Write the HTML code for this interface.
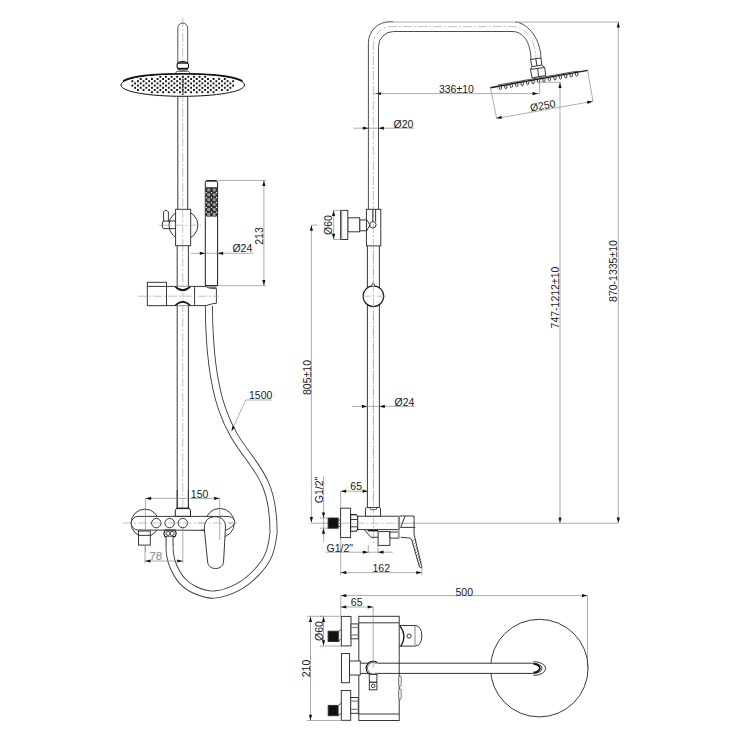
<!DOCTYPE html>
<html><head><meta charset="utf-8"><style>
html,body{margin:0;padding:0;background:#fff;}
svg{display:block;font-family:"Liberation Sans",sans-serif;}
</style></head><body>
<svg width="740" height="740" viewBox="0 0 740 740">
<rect width="740" height="740" fill="#fff"/>
<line x1="182.75" y1="18" x2="182.75" y2="512" stroke="#9a9a9a" stroke-width="0.6" fill="none" stroke-dasharray="9 2 2 2"/>
<path d="M177.8,62 L177.8,28 A4.95,4.95 0 0 1 187.7,28 L187.7,62" stroke="#444" stroke-width="0.9" fill="none"/>
<path d="M178.5,62.4 Q182.75,60.6 187,62.4 Q188.6,63.5 188.6,65.8 Q188.6,68.2 187,69.2 L178.5,69.2 Q177,68.2 177,65.8 Q177,63.5 178.5,62.4 Z" stroke="#111" stroke-width="1.1" fill="#fff"/>
<line x1="177.6" y1="63" x2="187.9" y2="63" stroke="#111" stroke-width="1.4"/>
<line x1="177.6" y1="68.6" x2="187.9" y2="68.6" stroke="#111" stroke-width="1.6"/>
<rect x="179" y="69.4" width="7.5" height="1.6" fill="#888"/>
<path d="M175.4,73.5 L176.8,71.3 L188.8,71.3 L190.2,73.5" stroke="#333" stroke-width="0.8" fill="none"/>
<path d="M121,85 C121,78 150,73.8 182.75,73.8 C215,73.8 244.5,78 244.5,85 C244.5,92 215,96.3 182.75,96.3 C150,96.3 121,92 121,85 Z" stroke="#111" stroke-width="1" fill="#fff"/>
<path d="M123,81 C132,76 155,73.8 182.75,73.8 C210,73.8 233,76 242.5,81" stroke="#111" stroke-width="1.5" fill="none"/>
<rect x="131.40" y="80.25" width="1.9" height="1.9" fill="#111"/>
<rect x="131.40" y="84.65" width="1.9" height="1.9" fill="#111"/>
<rect x="134.20" y="82.45" width="1.9" height="1.9" fill="#111"/>
<rect x="134.20" y="86.85" width="1.9" height="1.9" fill="#111"/>
<rect x="137.00" y="80.25" width="1.9" height="1.9" fill="#111"/>
<rect x="137.00" y="84.65" width="1.9" height="1.9" fill="#111"/>
<rect x="137.00" y="89.05" width="1.9" height="1.9" fill="#111"/>
<rect x="139.80" y="78.05" width="1.9" height="1.9" fill="#111"/>
<rect x="139.80" y="82.45" width="1.9" height="1.9" fill="#111"/>
<rect x="139.80" y="86.85" width="1.9" height="1.9" fill="#111"/>
<rect x="142.60" y="80.25" width="1.9" height="1.9" fill="#111"/>
<rect x="142.60" y="84.65" width="1.9" height="1.9" fill="#111"/>
<rect x="142.60" y="89.05" width="1.9" height="1.9" fill="#111"/>
<rect x="145.40" y="78.05" width="1.9" height="1.9" fill="#111"/>
<rect x="145.40" y="82.45" width="1.9" height="1.9" fill="#111"/>
<rect x="145.40" y="86.85" width="1.9" height="1.9" fill="#111"/>
<rect x="148.20" y="80.25" width="1.9" height="1.9" fill="#111"/>
<rect x="148.20" y="84.65" width="1.9" height="1.9" fill="#111"/>
<rect x="148.20" y="89.05" width="1.9" height="1.9" fill="#111"/>
<rect x="151.00" y="78.05" width="1.9" height="1.9" fill="#111"/>
<rect x="151.00" y="82.45" width="1.9" height="1.9" fill="#111"/>
<rect x="151.00" y="86.85" width="1.9" height="1.9" fill="#111"/>
<rect x="151.00" y="91.25" width="1.9" height="1.9" fill="#111"/>
<rect x="153.80" y="80.25" width="1.9" height="1.9" fill="#111"/>
<rect x="153.80" y="84.65" width="1.9" height="1.9" fill="#111"/>
<rect x="153.80" y="89.05" width="1.9" height="1.9" fill="#111"/>
<rect x="156.60" y="78.05" width="1.9" height="1.9" fill="#111"/>
<rect x="156.60" y="82.45" width="1.9" height="1.9" fill="#111"/>
<rect x="156.60" y="86.85" width="1.9" height="1.9" fill="#111"/>
<rect x="156.60" y="91.25" width="1.9" height="1.9" fill="#111"/>
<rect x="159.40" y="75.85" width="1.9" height="1.9" fill="#111"/>
<rect x="159.40" y="80.25" width="1.9" height="1.9" fill="#111"/>
<rect x="159.40" y="84.65" width="1.9" height="1.9" fill="#111"/>
<rect x="159.40" y="89.05" width="1.9" height="1.9" fill="#111"/>
<rect x="162.20" y="78.05" width="1.9" height="1.9" fill="#111"/>
<rect x="162.20" y="82.45" width="1.9" height="1.9" fill="#111"/>
<rect x="162.20" y="86.85" width="1.9" height="1.9" fill="#111"/>
<rect x="162.20" y="91.25" width="1.9" height="1.9" fill="#111"/>
<rect x="165.00" y="75.85" width="1.9" height="1.9" fill="#111"/>
<rect x="165.00" y="80.25" width="1.9" height="1.9" fill="#111"/>
<rect x="165.00" y="84.65" width="1.9" height="1.9" fill="#111"/>
<rect x="165.00" y="89.05" width="1.9" height="1.9" fill="#111"/>
<rect x="167.80" y="78.05" width="1.9" height="1.9" fill="#111"/>
<rect x="167.80" y="82.45" width="1.9" height="1.9" fill="#111"/>
<rect x="167.80" y="86.85" width="1.9" height="1.9" fill="#111"/>
<rect x="167.80" y="91.25" width="1.9" height="1.9" fill="#111"/>
<rect x="170.60" y="75.85" width="1.9" height="1.9" fill="#111"/>
<rect x="170.60" y="80.25" width="1.9" height="1.9" fill="#111"/>
<rect x="170.60" y="84.65" width="1.9" height="1.9" fill="#111"/>
<rect x="170.60" y="89.05" width="1.9" height="1.9" fill="#111"/>
<rect x="173.40" y="78.05" width="1.9" height="1.9" fill="#111"/>
<rect x="173.40" y="82.45" width="1.9" height="1.9" fill="#111"/>
<rect x="173.40" y="86.85" width="1.9" height="1.9" fill="#111"/>
<rect x="173.40" y="91.25" width="1.9" height="1.9" fill="#111"/>
<rect x="176.20" y="75.85" width="1.9" height="1.9" fill="#111"/>
<rect x="176.20" y="80.25" width="1.9" height="1.9" fill="#111"/>
<rect x="176.20" y="84.65" width="1.9" height="1.9" fill="#111"/>
<rect x="176.20" y="89.05" width="1.9" height="1.9" fill="#111"/>
<rect x="179.00" y="78.05" width="1.9" height="1.9" fill="#111"/>
<rect x="179.00" y="82.45" width="1.9" height="1.9" fill="#111"/>
<rect x="179.00" y="86.85" width="1.9" height="1.9" fill="#111"/>
<rect x="179.00" y="91.25" width="1.9" height="1.9" fill="#111"/>
<rect x="181.80" y="75.85" width="1.9" height="1.9" fill="#111"/>
<rect x="181.80" y="80.25" width="1.9" height="1.9" fill="#111"/>
<rect x="181.80" y="84.65" width="1.9" height="1.9" fill="#111"/>
<rect x="181.80" y="89.05" width="1.9" height="1.9" fill="#111"/>
<rect x="184.60" y="78.05" width="1.9" height="1.9" fill="#111"/>
<rect x="184.60" y="82.45" width="1.9" height="1.9" fill="#111"/>
<rect x="184.60" y="86.85" width="1.9" height="1.9" fill="#111"/>
<rect x="184.60" y="91.25" width="1.9" height="1.9" fill="#111"/>
<rect x="187.40" y="75.85" width="1.9" height="1.9" fill="#111"/>
<rect x="187.40" y="80.25" width="1.9" height="1.9" fill="#111"/>
<rect x="187.40" y="84.65" width="1.9" height="1.9" fill="#111"/>
<rect x="187.40" y="89.05" width="1.9" height="1.9" fill="#111"/>
<rect x="190.20" y="78.05" width="1.9" height="1.9" fill="#111"/>
<rect x="190.20" y="82.45" width="1.9" height="1.9" fill="#111"/>
<rect x="190.20" y="86.85" width="1.9" height="1.9" fill="#111"/>
<rect x="190.20" y="91.25" width="1.9" height="1.9" fill="#111"/>
<rect x="193.00" y="75.85" width="1.9" height="1.9" fill="#111"/>
<rect x="193.00" y="80.25" width="1.9" height="1.9" fill="#111"/>
<rect x="193.00" y="84.65" width="1.9" height="1.9" fill="#111"/>
<rect x="193.00" y="89.05" width="1.9" height="1.9" fill="#111"/>
<rect x="195.80" y="78.05" width="1.9" height="1.9" fill="#111"/>
<rect x="195.80" y="82.45" width="1.9" height="1.9" fill="#111"/>
<rect x="195.80" y="86.85" width="1.9" height="1.9" fill="#111"/>
<rect x="195.80" y="91.25" width="1.9" height="1.9" fill="#111"/>
<rect x="198.60" y="75.85" width="1.9" height="1.9" fill="#111"/>
<rect x="198.60" y="80.25" width="1.9" height="1.9" fill="#111"/>
<rect x="198.60" y="84.65" width="1.9" height="1.9" fill="#111"/>
<rect x="198.60" y="89.05" width="1.9" height="1.9" fill="#111"/>
<rect x="201.40" y="78.05" width="1.9" height="1.9" fill="#111"/>
<rect x="201.40" y="82.45" width="1.9" height="1.9" fill="#111"/>
<rect x="201.40" y="86.85" width="1.9" height="1.9" fill="#111"/>
<rect x="201.40" y="91.25" width="1.9" height="1.9" fill="#111"/>
<rect x="204.20" y="75.85" width="1.9" height="1.9" fill="#111"/>
<rect x="204.20" y="80.25" width="1.9" height="1.9" fill="#111"/>
<rect x="204.20" y="84.65" width="1.9" height="1.9" fill="#111"/>
<rect x="204.20" y="89.05" width="1.9" height="1.9" fill="#111"/>
<rect x="207.00" y="78.05" width="1.9" height="1.9" fill="#111"/>
<rect x="207.00" y="82.45" width="1.9" height="1.9" fill="#111"/>
<rect x="207.00" y="86.85" width="1.9" height="1.9" fill="#111"/>
<rect x="207.00" y="91.25" width="1.9" height="1.9" fill="#111"/>
<rect x="209.80" y="80.25" width="1.9" height="1.9" fill="#111"/>
<rect x="209.80" y="84.65" width="1.9" height="1.9" fill="#111"/>
<rect x="209.80" y="89.05" width="1.9" height="1.9" fill="#111"/>
<rect x="212.60" y="78.05" width="1.9" height="1.9" fill="#111"/>
<rect x="212.60" y="82.45" width="1.9" height="1.9" fill="#111"/>
<rect x="212.60" y="86.85" width="1.9" height="1.9" fill="#111"/>
<rect x="212.60" y="91.25" width="1.9" height="1.9" fill="#111"/>
<rect x="215.40" y="80.25" width="1.9" height="1.9" fill="#111"/>
<rect x="215.40" y="84.65" width="1.9" height="1.9" fill="#111"/>
<rect x="215.40" y="89.05" width="1.9" height="1.9" fill="#111"/>
<rect x="218.20" y="78.05" width="1.9" height="1.9" fill="#111"/>
<rect x="218.20" y="82.45" width="1.9" height="1.9" fill="#111"/>
<rect x="218.20" y="86.85" width="1.9" height="1.9" fill="#111"/>
<rect x="221.00" y="80.25" width="1.9" height="1.9" fill="#111"/>
<rect x="221.00" y="84.65" width="1.9" height="1.9" fill="#111"/>
<rect x="221.00" y="89.05" width="1.9" height="1.9" fill="#111"/>
<rect x="223.80" y="78.05" width="1.9" height="1.9" fill="#111"/>
<rect x="223.80" y="82.45" width="1.9" height="1.9" fill="#111"/>
<rect x="223.80" y="86.85" width="1.9" height="1.9" fill="#111"/>
<rect x="226.60" y="80.25" width="1.9" height="1.9" fill="#111"/>
<rect x="226.60" y="84.65" width="1.9" height="1.9" fill="#111"/>
<rect x="226.60" y="89.05" width="1.9" height="1.9" fill="#111"/>
<rect x="229.40" y="82.45" width="1.9" height="1.9" fill="#111"/>
<rect x="229.40" y="86.85" width="1.9" height="1.9" fill="#111"/>
<rect x="232.20" y="80.25" width="1.9" height="1.9" fill="#111"/>
<rect x="232.20" y="84.65" width="1.9" height="1.9" fill="#111"/>
<rect x="181.95" y="76.50" width="1.6" height="1.6" fill="#111"/>
<rect x="181.95" y="78.90" width="1.6" height="1.6" fill="#111"/>
<rect x="181.95" y="81.30" width="1.6" height="1.6" fill="#111"/>
<rect x="181.95" y="83.70" width="1.6" height="1.6" fill="#111"/>
<rect x="181.95" y="86.10" width="1.6" height="1.6" fill="#111"/>
<rect x="181.95" y="88.50" width="1.6" height="1.6" fill="#111"/>
<rect x="181.95" y="90.90" width="1.6" height="1.6" fill="#111"/>
<rect x="181.95" y="93.30" width="1.6" height="1.6" fill="#111"/>
<line x1="182.75" y1="74" x2="182.75" y2="96" stroke="#9a9a9a" stroke-width="0.6" fill="none" stroke-dasharray="9 2 2 2"/>
<line x1="177.8" y1="96" x2="177.8" y2="209.3" stroke="#2e2e2e" stroke-width="0.95" fill="none"/>
<line x1="187.7" y1="96" x2="187.7" y2="209.3" stroke="#2e2e2e" stroke-width="0.95" fill="none"/>
<line x1="177.2" y1="245.7" x2="177.2" y2="286.4" stroke="#2e2e2e" stroke-width="0.95" fill="none"/>
<line x1="177.2" y1="305.7" x2="177.2" y2="508" stroke="#2e2e2e" stroke-width="0.95" fill="none"/>
<line x1="188.4" y1="245.7" x2="188.4" y2="286.4" stroke="#2e2e2e" stroke-width="0.95" fill="none"/>
<line x1="188.4" y1="305.7" x2="188.4" y2="508" stroke="#2e2e2e" stroke-width="0.95" fill="none"/>
<circle cx="183.4" cy="225.2" r="14.5" stroke="#2e2e2e" stroke-width="0.95" fill="none"/>
<rect x="175.6" y="209.3" width="15.099999999999994" height="36.39999999999998" stroke="#2e2e2e" stroke-width="0.95" fill="#fff"/>
<line x1="182.75" y1="209.3" x2="182.75" y2="245.7" stroke="#9a9a9a" stroke-width="0.6" fill="none" stroke-dasharray="9 2 2 2"/>
<line x1="159" y1="225.2" x2="201" y2="225.2" stroke="#9a9a9a" stroke-width="0.6" fill="none" stroke-dasharray="9 2 2 2"/>
<path d="M163.6,222 L163.6,212 Q166,208.5 168.4,212 L168.4,222" stroke="#2e2e2e" stroke-width="0.95" fill="none"/>
<path d="M176,221 L164,221 Q162,221 162.3,224.8 Q162,228.6 164,228.6 L176,228.6" stroke="#2e2e2e" stroke-width="0.95" fill="none"/>
<path d="M205.3,285.7 L205.3,182.4 Q205.3,180.6 207.2,180.6 L215.7,180.6 Q217.6,180.6 217.6,182.4 L217.6,285.7 Z" stroke="#1a1a1a" stroke-width="1" fill="#fff"/>
<line x1="206.5" y1="180.9" x2="216.4" y2="180.9" stroke="#222" stroke-width="1.5"/>
<rect x="206.0" y="187.2" width="10.900000000000006" height="29.400000000000006" stroke="none" fill="#2a2a2a"/>
<rect x="207.20" y="188.40" width="3" height="3" fill="#9a9a9a"/>
<rect x="212.70" y="188.40" width="3" height="3" fill="#9a9a9a"/>
<rect x="205.70" y="192.10" width="1.2" height="1.2" fill="#fff"/>
<rect x="210.85" y="192.10" width="1.2" height="1.2" fill="#fff"/>
<rect x="215.90" y="192.10" width="1.2" height="1.2" fill="#fff"/>
<rect x="207.20" y="193.30" width="3" height="3" fill="#9a9a9a"/>
<rect x="212.70" y="193.30" width="3" height="3" fill="#9a9a9a"/>
<rect x="205.70" y="197.00" width="1.2" height="1.2" fill="#fff"/>
<rect x="210.85" y="197.00" width="1.2" height="1.2" fill="#fff"/>
<rect x="215.90" y="197.00" width="1.2" height="1.2" fill="#fff"/>
<rect x="207.20" y="198.20" width="3" height="3" fill="#9a9a9a"/>
<rect x="212.70" y="198.20" width="3" height="3" fill="#9a9a9a"/>
<rect x="205.70" y="201.90" width="1.2" height="1.2" fill="#fff"/>
<rect x="210.85" y="201.90" width="1.2" height="1.2" fill="#fff"/>
<rect x="215.90" y="201.90" width="1.2" height="1.2" fill="#fff"/>
<rect x="207.20" y="203.10" width="3" height="3" fill="#9a9a9a"/>
<rect x="212.70" y="203.10" width="3" height="3" fill="#9a9a9a"/>
<rect x="205.70" y="206.80" width="1.2" height="1.2" fill="#fff"/>
<rect x="210.85" y="206.80" width="1.2" height="1.2" fill="#fff"/>
<rect x="215.90" y="206.80" width="1.2" height="1.2" fill="#fff"/>
<rect x="207.20" y="208.00" width="3" height="3" fill="#9a9a9a"/>
<rect x="212.70" y="208.00" width="3" height="3" fill="#9a9a9a"/>
<rect x="205.70" y="211.70" width="1.2" height="1.2" fill="#fff"/>
<rect x="210.85" y="211.70" width="1.2" height="1.2" fill="#fff"/>
<rect x="215.90" y="211.70" width="1.2" height="1.2" fill="#fff"/>
<rect x="207.20" y="212.90" width="3" height="3" fill="#9a9a9a"/>
<rect x="212.70" y="212.90" width="3" height="3" fill="#9a9a9a"/>
<rect x="205.70" y="216.60" width="1.2" height="1.2" fill="#fff"/>
<rect x="210.85" y="216.60" width="1.2" height="1.2" fill="#fff"/>
<rect x="215.90" y="216.60" width="1.2" height="1.2" fill="#fff"/>
<line x1="218" y1="180.4" x2="266" y2="180.4" stroke="#8a8a8a" stroke-width="0.7" fill="none"/>
<line x1="218" y1="285.7" x2="266" y2="285.7" stroke="#8a8a8a" stroke-width="0.7" fill="none"/>
<line x1="263.9" y1="180.4" x2="263.9" y2="285.7" stroke="#8a8a8a" stroke-width="0.7" fill="none"/>
<path d="M263.90,180.60 L265.50,186.10 L262.30,186.10 Z" fill="#111"/>
<path d="M263.90,285.50 L262.30,280.00 L265.50,280.00 Z" fill="#111"/>
<text x="263.3" y="236" font-size="10.5" text-anchor="middle" fill="#1a1a1a" transform="rotate(-90 263.3 236)">213</text>
<line x1="191" y1="253.3" x2="253.5" y2="253.3" stroke="#8a8a8a" stroke-width="0.7" fill="none"/>
<path d="M205.30,253.30 L199.80,254.90 L199.80,251.70 Z" fill="#111"/>
<path d="M217.60,253.30 L223.10,251.70 L223.10,254.90 Z" fill="#111"/>
<text x="232.4" y="251.8" font-size="10.5" text-anchor="start" fill="#1a1a1a">Ø24</text>
<rect x="147.3" y="282.3" width="19.19999999999999" height="23.399999999999977" stroke="#2e2e2e" stroke-width="0.95" fill="#fff"/>
<line x1="147.3" y1="286.4" x2="166.5" y2="286.4" stroke="#2e2e2e" stroke-width="0.95" fill="none"/>
<path d="M166.5,286.4 L175.5,286.4 L194.6,286.4 L194.6,305.6 L166.5,305.6" stroke="#2e2e2e" stroke-width="0.95" fill="none"/>
<path d="M175.3,286.6 Q182.75,293.8 190.2,286.6" stroke="#111" stroke-width="1.7" fill="#fff"/>
<path d="M175.3,305.5 Q182.75,298.4 190.2,305.5" stroke="#111" stroke-width="1.7" fill="#fff"/>
<path d="M194.6,286.4 L206,286.4 Q208,288.6 216.4,288.6 L216.4,303.2 L212.4,303.8 L206,305.6 L194.6,305.6" stroke="#2e2e2e" stroke-width="0.95" fill="none"/>
<path d="M206,286.4 L216.4,286.4 L216.4,288.6 L209,288.3 Z" fill="#777"/>
<line x1="205.5" y1="285.5" x2="217" y2="285.5" stroke="#2e2e2e" stroke-width="0.95" fill="none"/>
<line x1="138" y1="296.2" x2="219" y2="296.2" stroke="#9a9a9a" stroke-width="0.6" fill="none" stroke-dasharray="9 2 2 2"/>
<path d="M208.9,306 C209.5,477.4 273.6,435 273.6,532.4 C272.75,539.95 271.32,548.67 268.5,555.3 C265.68,561.93 261.78,566.92 256.7,572.2 C251.62,577.48 245.12,583.27 238,587 C230.88,590.73 221.17,594.10 214,594.6 C206.83,595.10 200.33,592.32 195,590 C189.67,587.68 185.63,584.70 182,580.7 C178.37,576.70 175.20,570.45 173.2,566 C171.20,561.55 170.60,557.58 170,554 C169.40,550.42 169.67,546.08 169.6,544.5" stroke="#3a3a3a" stroke-width="8" fill="none"/>
<path d="M208.9,306 C209.5,477.4 273.6,435 273.6,532.4 C272.75,539.95 271.32,548.67 268.5,555.3 C265.68,561.93 261.78,566.92 256.7,572.2 C251.62,577.48 245.12,583.27 238,587 C230.88,590.73 221.17,594.10 214,594.6 C206.83,595.10 200.33,592.32 195,590 C189.67,587.68 185.63,584.70 182,580.7 C178.37,576.70 175.20,570.45 173.2,566 C171.20,561.55 170.60,557.58 170,554 C169.40,550.42 169.67,546.08 169.6,544.5" stroke="#fff" stroke-width="6.2" fill="none"/>
<line x1="231.5" y1="431.2" x2="245.7" y2="400" stroke="#8a8a8a" stroke-width="0.7" fill="none"/>
<line x1="245.7" y1="400" x2="271.4" y2="400" stroke="#8a8a8a" stroke-width="0.7" fill="none"/>
<path d="M231.50,431.20 L232.30,426.07 L234.85,427.23 Z" fill="#111"/>
<text x="249" y="398.5" font-size="10.5" text-anchor="start" fill="#1a1a1a">1500</text>
<circle cx="145" cy="523" r="13.9" stroke="#2e2e2e" stroke-width="0.95" fill="none"/>
<circle cx="219.8" cy="523" r="14.6" stroke="#2e2e2e" stroke-width="0.95" fill="none"/>
<path d="M138,516.4 L228.4,516.4 C233,517 235.5,520.5 234.5,523.2 C233.3,526.5 229,528.8 225.4,530.4 L138,530 A6.8,6.8 0 0 1 138,516.4 Z" stroke="#2e2e2e" stroke-width="0.95" fill="#fff"/>
<circle cx="156.3" cy="523.1" r="4.7" stroke="#2e2e2e" stroke-width="0.95" fill="none"/>
<circle cx="169.6" cy="523.1" r="4.7" stroke="#2e2e2e" stroke-width="0.95" fill="none"/>
<circle cx="182.8" cy="523.1" r="4.7" stroke="#2e2e2e" stroke-width="0.95" fill="none"/>
<line x1="123" y1="523" x2="237" y2="523" stroke="#9a9a9a" stroke-width="0.6" fill="none" stroke-dasharray="9 2 2 2"/>
<path d="M175.3,516.3 L175.3,510.2 L176.6,508.3 L189.2,508.3 L190.5,510.2 L190.5,516.3 Z" stroke="#222" stroke-width="1" fill="#fff"/>
<line x1="176.6" y1="508.4" x2="189.2" y2="508.4" stroke="#222" stroke-width="1.4"/>
<line x1="177.2" y1="490" x2="177.2" y2="508" stroke="#2e2e2e" stroke-width="0.95" fill="none"/>
<line x1="188.4" y1="490" x2="188.4" y2="508" stroke="#2e2e2e" stroke-width="0.95" fill="none"/>
<rect x="138.5" y="531" width="11.800000000000011" height="14.100000000000023" stroke="#2e2e2e" stroke-width="0.95" fill="#fff"/>
<line x1="138.5" y1="535.4" x2="150.3" y2="535.4" stroke="#2e2e2e" stroke-width="0.95" fill="none"/>
<line x1="145.4" y1="545.1" x2="145.4" y2="552" stroke="#8a8a8a" stroke-width="0.7" fill="none"/>
<path d="M165,530.1 L175,530.1 L176.3,533.4 L175,536.6 L165,536.6 L163.8,533.4 Z" stroke="#1a1a1a" stroke-width="1.1" fill="#fff"/>
<circle cx="168.1" cy="533.4" r="2.1" stroke="#2e2e2e" stroke-width="0.95" fill="none"/>
<circle cx="172.1" cy="533.4" r="2.1" stroke="#2e2e2e" stroke-width="0.95" fill="none"/>
<rect x="166.1" y="536.6" width="6.9" height="8.4" fill="#fff"/>
<path d="M166.1,536.6 L166.1,545 M173,536.6 L173,545" stroke="#2e2e2e" stroke-width="0.95" fill="none"/>
<path d="M204.3,529 C204.3,520 209,516.7 215.3,516.7 C221.5,516.7 225.5,520.5 225.5,527 L223.6,561 C223.4,566 220,568.5 215.5,568.5 C211,568.5 207.8,566 207.5,561 Z" stroke="#2e2e2e" stroke-width="0.95" fill="#fff"/>
<path d="M201.5,529.8 Q203.8,530 204.4,531" stroke="#2e2e2e" stroke-width="0.95" fill="none"/>
<line x1="198" y1="523" x2="237" y2="523" stroke="#9a9a9a" stroke-width="0.6" fill="none" stroke-dasharray="9 2 2 2"/>
<line x1="145.6" y1="498.4" x2="219.7" y2="498.4" stroke="#8a8a8a" stroke-width="0.7" fill="none"/>
<line x1="145.4" y1="498.4" x2="145.4" y2="531" stroke="#8a8a8a" stroke-width="0.7" fill="none"/>
<line x1="219.7" y1="498.4" x2="219.7" y2="540" stroke="#8a8a8a" stroke-width="0.7" fill="none"/>
<path d="M145.60,498.40 L151.10,496.80 L151.10,500.00 Z" fill="#111"/>
<path d="M219.70,498.40 L214.20,500.00 L214.20,496.80 Z" fill="#111"/>
<text x="190.8" y="497.5" font-size="10.5" text-anchor="start" fill="#1a1a1a">150</text>
<line x1="145" y1="561" x2="182.8" y2="561" stroke="#8a8a8a" stroke-width="0.7" fill="none"/>
<line x1="145" y1="545" x2="145" y2="563" stroke="#8a8a8a" stroke-width="0.7" fill="none"/>
<line x1="182.8" y1="528" x2="182.8" y2="563" stroke="#8a8a8a" stroke-width="0.7" fill="none"/>
<path d="M145.00,561.00 L150.50,559.40 L150.50,562.60 Z" fill="#111"/>
<path d="M182.80,561.00 L177.30,562.60 L177.30,559.40 Z" fill="#111"/>
<text x="149.3" y="560.4" font-size="11.8" text-anchor="start" fill="#8a8a8a">78</text>
<path d="M368.4,42.8 A21,21 0 0 1 389.4,21.8 L393,21.8" stroke="#3a3a3a" stroke-width="0.9" fill="none"/>
<path d="M378.5,46.5 A15,15 0 0 1 393.5,31.5 L513,31.5 C522,32 530.5,40 531,59.5" stroke="#3a3a3a" stroke-width="0.9" fill="none"/>
<path d="M515,22 C525,22.3 540,35 541,58" stroke="#3a3a3a" stroke-width="0.9" fill="none"/>
<path d="M373.4,500 L373.4,44.6 A18,18 0 0 1 391.4,26.6 L514,26.6 C523.5,27 535,37 536,58.5" stroke="#9a9a9a" stroke-width="0.6" fill="none" stroke-dasharray="9 2 2 2"/>
<path d="M530.5,59.5 L541,58 L541.9,65.1 L532,66.6 Z" stroke="#2e2e2e" stroke-width="0.95" fill="none"/>
<line x1="535.8" y1="58.8" x2="536.9" y2="65.8" stroke="#2e2e2e" stroke-width="0.95" fill="none"/>
<path d="M532,66.6 L530.5,69.4 M541.9,65.1 L544.7,67.5" stroke="#2e2e2e" stroke-width="0.95" fill="none"/>
<path d="M530.5,69.4 L544.7,67.5 L545.7,75.5 L532,77.9 Z" stroke="#2e2e2e" stroke-width="0.95" fill="none"/>
<line x1="537.6" y1="68.7" x2="538.8" y2="76.7" stroke="#2e2e2e" stroke-width="0.95" fill="none"/>
<path d="M490.3,87.7 L587.8,70.4" stroke="#1a1a1a" stroke-width="1.4" fill="none"/>
<path d="M490.3,87.7 L497,86.5 L498.4,84.9 L571.6,72.1 Q576,71 579.7,71.5" stroke="#333" stroke-width="0.8" fill="none"/>
<path d="M499.30,86.61 L499.30,88.91 Q500.40,90.41 501.50,88.91 L501.50,86.41" stroke="#222" stroke-width="0.85" fill="none"/>
<path d="M504.75,85.64 L504.75,87.94 Q505.85,89.44 506.95,87.94 L506.95,85.44" stroke="#222" stroke-width="0.85" fill="none"/>
<path d="M510.20,84.67 L510.20,86.97 Q511.30,88.47 512.40,86.97 L512.40,84.47" stroke="#222" stroke-width="0.85" fill="none"/>
<path d="M515.65,83.71 L515.65,86.01 Q516.75,87.51 517.85,86.01 L517.85,83.51" stroke="#222" stroke-width="0.85" fill="none"/>
<path d="M521.10,82.74 L521.10,85.04 Q522.20,86.54 523.30,85.04 L523.30,82.54" stroke="#222" stroke-width="0.85" fill="none"/>
<path d="M526.55,81.77 L526.55,84.07 Q527.65,85.57 528.75,84.07 L528.75,81.57" stroke="#222" stroke-width="0.85" fill="none"/>
<path d="M532.00,80.81 L532.00,83.11 Q533.10,84.61 534.20,83.11 L534.20,80.61" stroke="#222" stroke-width="0.85" fill="none"/>
<path d="M537.45,79.84 L537.45,82.14 Q538.55,83.64 539.65,82.14 L539.65,79.64" stroke="#222" stroke-width="0.85" fill="none"/>
<path d="M542.90,78.87 L542.90,81.17 Q544.00,82.67 545.10,81.17 L545.10,78.67" stroke="#222" stroke-width="0.85" fill="none"/>
<path d="M548.35,77.90 L548.35,80.20 Q549.45,81.70 550.55,80.20 L550.55,77.70" stroke="#222" stroke-width="0.85" fill="none"/>
<path d="M553.80,76.94 L553.80,79.24 Q554.90,80.74 556.00,79.24 L556.00,76.74" stroke="#222" stroke-width="0.85" fill="none"/>
<path d="M559.25,75.97 L559.25,78.27 Q560.35,79.77 561.45,78.27 L561.45,75.77" stroke="#222" stroke-width="0.85" fill="none"/>
<path d="M564.70,75.00 L564.70,77.30 Q565.80,78.80 566.90,77.30 L566.90,74.80" stroke="#222" stroke-width="0.85" fill="none"/>
<path d="M570.15,74.04 L570.15,76.34 Q571.25,77.84 572.35,76.34 L572.35,73.84" stroke="#222" stroke-width="0.85" fill="none"/>
<path d="M575.60,73.07 L575.60,75.37 Q576.70,76.87 577.80,75.37 L577.80,72.87" stroke="#222" stroke-width="0.85" fill="none"/>
<line x1="490.4" y1="87.6" x2="496.7" y2="118.4" stroke="#8a8a8a" stroke-width="0.7" fill="none"/>
<line x1="587.6" y1="70.2" x2="593" y2="101.3" stroke="#8a8a8a" stroke-width="0.7" fill="none"/>
<line x1="496.7" y1="118.4" x2="593" y2="101.3" stroke="#8a8a8a" stroke-width="0.7" fill="none"/>
<path d="M496.20,118.20 L501.34,115.66 L501.90,118.81 Z" fill="#111"/>
<path d="M592.70,101.40 L587.56,103.94 L587.00,100.79 Z" fill="#111"/>
<text x="543.3" y="109.2" font-size="10.5" text-anchor="middle" fill="#1a1a1a" transform="rotate(-10.15 543.3 109.2)">Ø250</text>
<line x1="373.4" y1="93.6" x2="539.6" y2="93.6" stroke="#8a8a8a" stroke-width="0.7" fill="none"/>
<path d="M375.60,93.60 L381.10,92.30 L381.10,94.90 Z" fill="#111"/>
<path d="M538.00,93.60 L532.50,95.20 L532.50,92.00 Z" fill="#111"/>
<line x1="539.7" y1="81.9" x2="539.7" y2="94" stroke="#8a8a8a" stroke-width="0.7" fill="none"/>
<text x="438.9" y="92.8" font-size="10.5" text-anchor="start" fill="#1a1a1a">336±10</text>
<line x1="539.7" y1="82.3" x2="561" y2="82.3" stroke="#8a8a8a" stroke-width="0.7" fill="none"/>
<line x1="560" y1="82.3" x2="560" y2="523" stroke="#8a8a8a" stroke-width="0.7" fill="none"/>
<path d="M560.00,82.50 L561.60,88.00 L558.40,88.00 Z" fill="#111"/>
<path d="M560.00,523.00 L558.40,517.50 L561.60,517.50 Z" fill="#111"/>
<text x="559" y="297.5" font-size="10.5" text-anchor="middle" fill="#1a1a1a" transform="rotate(-90 559 297.5)">747-1212±10</text>
<line x1="393" y1="22" x2="618.8" y2="22" stroke="#aaa" stroke-width="1.2" fill="none"/>
<line x1="618.3" y1="21.9" x2="618.3" y2="523" stroke="#8a8a8a" stroke-width="0.7" fill="none"/>
<path d="M618.30,22.10 L619.90,27.60 L616.70,27.60 Z" fill="#111"/>
<path d="M618.30,523.00 L616.70,517.50 L619.90,517.50 Z" fill="#111"/>
<text x="617.3" y="271" font-size="10.5" text-anchor="middle" fill="#1a1a1a" transform="rotate(-90 617.3 271)">870-1335±10</text>
<line x1="353.4" y1="128.2" x2="414.3" y2="128.2" stroke="#8a8a8a" stroke-width="0.7" fill="none"/>
<path d="M368.40,128.20 L362.90,129.80 L362.90,126.60 Z" fill="#111"/>
<path d="M378.40,128.20 L383.90,126.60 L383.90,129.80 Z" fill="#111"/>
<text x="393.5" y="127.5" font-size="10.5" text-anchor="start" fill="#1a1a1a">Ø20</text>
<line x1="368.4" y1="42.8" x2="368.4" y2="209.3" stroke="#3a3a3a" stroke-width="0.9" fill="none"/>
<line x1="378.5" y1="46.5" x2="378.5" y2="209.3" stroke="#3a3a3a" stroke-width="0.9" fill="none"/>
<line x1="367.4" y1="245.9" x2="367.4" y2="507.3" stroke="#2e2e2e" stroke-width="0.95" fill="none"/>
<line x1="379.4" y1="245.9" x2="379.4" y2="507.3" stroke="#2e2e2e" stroke-width="0.95" fill="none"/>
<rect x="366.4" y="209.3" width="14.400000000000034" height="36.599999999999994" stroke="#2e2e2e" stroke-width="0.95" fill="#fff"/>
<line x1="373.4" y1="209" x2="373.4" y2="500" stroke="#9a9a9a" stroke-width="0.6" fill="none" stroke-dasharray="9 2 2 2"/>
<circle cx="372.9" cy="224.8" r="3.2" stroke="#2e2e2e" stroke-width="0.95" fill="none"/>
<path d="M366.8,219.9 L359.7,219.9 L359.7,230.8 L366.8,230.8" stroke="#2e2e2e" stroke-width="0.95" fill="none"/>
<line x1="366.8" y1="219.9" x2="369.8" y2="224.8" stroke="#2e2e2e" stroke-width="0.95" fill="none"/>
<line x1="366.8" y1="230.8" x2="369.8" y2="224.8" stroke="#2e2e2e" stroke-width="0.95" fill="none"/>
<line x1="372.8" y1="209.3" x2="372.8" y2="221.6" stroke="#2e2e2e" stroke-width="0.95" fill="none"/>
<line x1="375.6" y1="209.3" x2="375.6" y2="221.6" stroke="#2e2e2e" stroke-width="0.95" fill="none"/>
<rect x="347.8" y="217.8" width="11.899999999999977" height="14.0" stroke="#2e2e2e" stroke-width="0.95" fill="#fff"/>
<rect x="340.6" y="210.4" width="7.199999999999989" height="29.099999999999994" stroke="#2e2e2e" stroke-width="0.95" fill="#fff"/>
<line x1="341.7" y1="210.4" x2="341.7" y2="239.5" stroke="#888" stroke-width="1"/>
<line x1="333.5" y1="210.4" x2="340.6" y2="210.4" stroke="#8a8a8a" stroke-width="0.7" fill="none"/>
<line x1="333.5" y1="239.5" x2="340.6" y2="239.5" stroke="#8a8a8a" stroke-width="0.7" fill="none"/>
<line x1="333.6" y1="210.4" x2="333.6" y2="239.5" stroke="#8a8a8a" stroke-width="0.7" fill="none"/>
<path d="M333.60,210.60 L335.20,216.10 L332.00,216.10 Z" fill="#111"/>
<path d="M333.60,239.30 L332.00,233.80 L335.20,233.80 Z" fill="#111"/>
<text x="332" y="225" font-size="10.5" text-anchor="middle" fill="#1a1a1a" transform="rotate(-90 332 225)">Ø60</text>
<circle cx="373.4" cy="296.2" r="10.3" stroke="#222" stroke-width="1.2" fill="#fff"/>
<path d="M372,285.9 Q371.8,283.2 373.3,283.1 Q374.8,283.2 374.6,285.9" stroke="#333" stroke-width="0.8" fill="#fff"/>
<line x1="362" y1="296.2" x2="386" y2="296.2" stroke="#9a9a9a" stroke-width="0.6" fill="none" stroke-dasharray="9 2 2 2"/>
<line x1="373.4" y1="283" x2="373.4" y2="308" stroke="#9a9a9a" stroke-width="0.6" fill="none" stroke-dasharray="9 2 2 2"/>
<line x1="311.4" y1="225.1" x2="317.6" y2="225.1" stroke="#8a8a8a" stroke-width="0.7" fill="none"/>
<line x1="311.4" y1="225.1" x2="311.4" y2="522.4" stroke="#8a8a8a" stroke-width="0.7" fill="none"/>
<path d="M311.40,225.30 L313.00,230.80 L309.80,230.80 Z" fill="#111"/>
<path d="M311.40,522.40 L309.80,516.90 L313.00,516.90 Z" fill="#111"/>
<text x="310.5" y="377.5" font-size="10.5" text-anchor="middle" fill="#1a1a1a" transform="rotate(-90 310.5 377.5)">805±10</text>
<line x1="352.1" y1="406.4" x2="415" y2="406.4" stroke="#8a8a8a" stroke-width="0.7" fill="none"/>
<path d="M367.40,406.40 L361.90,408.00 L361.90,404.80 Z" fill="#111"/>
<path d="M379.30,406.40 L384.80,404.80 L384.80,408.00 Z" fill="#111"/>
<text x="394.6" y="405.5" font-size="10.5" text-anchor="start" fill="#1a1a1a">Ø24</text>
<line x1="310.4" y1="523.2" x2="618.4" y2="523.2" stroke="#8a8a8a" stroke-width="0.7" fill="none"/>
<rect x="328.1" y="518" width="10.0" height="10.200000000000045" stroke="#2e2e2e" stroke-width="0.95" fill="#111"/>
<line x1="338.1" y1="520" x2="340.5" y2="520" stroke="#2e2e2e" stroke-width="0.95" fill="none"/>
<line x1="338.1" y1="526.4" x2="340.5" y2="526.4" stroke="#2e2e2e" stroke-width="0.95" fill="none"/>
<line x1="338.1" y1="523.2" x2="340.5" y2="523.2" stroke="#777" stroke-width="0.6"/>
<rect x="340.6" y="508.2" width="10.0" height="29.400000000000034" stroke="#2e2e2e" stroke-width="0.95" fill="#fff"/>
<path d="M350.6,514.6 L356,514.6 Q358,516 357.8,518 L357.8,528 Q358,530 356,531.2 L350.6,531.2 Z" stroke="#1a1a1a" stroke-width="1.1" fill="#fff"/>
<line x1="350.6" y1="519.5" x2="357.8" y2="519.5" stroke="#2e2e2e" stroke-width="0.95" fill="none"/>
<line x1="350.6" y1="526.8" x2="357.8" y2="526.8" stroke="#2e2e2e" stroke-width="0.95" fill="none"/>
<rect x="357.8" y="516.2" width="41.39999999999998" height="13.399999999999977" stroke="#2e2e2e" stroke-width="0.95" fill="#fff"/>
<path d="M365.5,516.2 L365.5,508.8 Q365.5,507.5 366.8,507.5 L379.2,507.5 Q380.5,507.5 380.5,508.8 L380.5,516.2 Z" stroke="#333" stroke-width="0.95" fill="#fff"/>
<path d="M370.2,507.7 L370.2,508.8 Q370.4,509.7 371.4,509.7 L375.4,509.7 Q376.4,509.7 376.6,508.8 L376.6,507.7" stroke="#333" stroke-width="0.9" fill="none"/>
<line x1="373.4" y1="500" x2="373.4" y2="545" stroke="#9a9a9a" stroke-width="0.6" fill="none" stroke-dasharray="9 2 2 2"/>
<path d="M364.3,529.6 L368.8,534.9 L371,537.3 L378.1,537.3" stroke="#2e2e2e" stroke-width="0.95" fill="none"/>
<line x1="367.6" y1="530.6" x2="378.1" y2="530.6" stroke="#1a1a1a" stroke-width="1.6"/>
<rect x="378.1" y="531.6" width="11.799999999999955" height="13.799999999999955" stroke="#2e2e2e" stroke-width="0.95" fill="#fff"/>
<rect x="389.9" y="532" width="8.900000000000034" height="6.100000000000023" stroke="#2e2e2e" stroke-width="0.95" fill="#fff"/>
<line x1="398.6" y1="516.2" x2="398.6" y2="538.2" stroke="#999" stroke-width="1.6"/>
<path d="M399.9,516 L414.1,516 L414.1,534.4 M405.2,516 L400.6,527.4" stroke="#2e2e2e" stroke-width="0.95" fill="none"/>
<line x1="400.6" y1="527.4" x2="415.3" y2="527.4" stroke="#2e2e2e" stroke-width="0.95" fill="none"/>
<path d="M400.6,537.3 L409.3,538 Q411.2,538.6 411.8,540 L419.4,566.9 L421.9,567.9 L414.1,534.4" stroke="#2e2e2e" stroke-width="0.95" fill="none"/>
<line x1="412.36" y1="541.98" x2="415.36" y2="538.78" stroke="#333" stroke-width="0.6"/>
<line x1="413.16" y1="544.81" x2="416.16" y2="541.61" stroke="#333" stroke-width="0.6"/>
<line x1="413.96" y1="547.65" x2="416.96" y2="544.45" stroke="#333" stroke-width="0.6"/>
<line x1="414.76" y1="550.48" x2="417.76" y2="547.28" stroke="#333" stroke-width="0.6"/>
<line x1="415.56" y1="553.31" x2="418.56" y2="550.11" stroke="#333" stroke-width="0.6"/>
<line x1="416.36" y1="556.14" x2="419.36" y2="552.94" stroke="#333" stroke-width="0.6"/>
<line x1="417.16" y1="558.97" x2="420.16" y2="555.77" stroke="#333" stroke-width="0.6"/>
<line x1="417.96" y1="561.80" x2="420.96" y2="558.60" stroke="#333" stroke-width="0.6"/>
<line x1="418.76" y1="564.63" x2="421.76" y2="561.43" stroke="#333" stroke-width="0.6"/>
<line x1="340.6" y1="523.2" x2="399.2" y2="523.2" stroke="#999" stroke-width="0.6" fill="none" stroke-dasharray="9 2 2 2"/>
<line x1="340.7" y1="491.2" x2="368.1" y2="491.2" stroke="#8a8a8a" stroke-width="0.7" fill="none"/>
<path d="M340.70,491.20 L346.20,489.60 L346.20,492.80 Z" fill="#111"/>
<path d="M368.10,491.20 L362.60,492.80 L362.60,489.60 Z" fill="#111"/>
<line x1="340.7" y1="491.2" x2="340.7" y2="508" stroke="#8a8a8a" stroke-width="0.7" fill="none"/>
<line x1="340.7" y1="537.8" x2="340.7" y2="575" stroke="#8a8a8a" stroke-width="0.7" fill="none"/>
<text x="350.3" y="490.2" font-size="10.5" text-anchor="start" fill="#1a1a1a">65</text>
<line x1="323.6" y1="476" x2="323.6" y2="542.3" stroke="#8a8a8a" stroke-width="0.7" fill="none"/>
<line x1="320" y1="518" x2="328" y2="518" stroke="#8a8a8a" stroke-width="0.7" fill="none"/>
<line x1="320" y1="528.2" x2="328" y2="528.2" stroke="#8a8a8a" stroke-width="0.7" fill="none"/>
<path d="M323.50,518.00 L321.90,512.50 L325.10,512.50 Z" fill="#111"/>
<path d="M323.50,528.20 L325.10,533.70 L321.90,533.70 Z" fill="#111"/>
<text x="323.2" y="490" font-size="10.5" text-anchor="middle" fill="#1a1a1a" transform="rotate(-90 323.2 490)">G1/2"</text>
<line x1="325.5" y1="552.2" x2="392.7" y2="552.2" stroke="#8a8a8a" stroke-width="0.7" fill="none"/>
<line x1="368.3" y1="545" x2="368.3" y2="553" stroke="#8a8a8a" stroke-width="0.7" fill="none"/>
<line x1="378" y1="545.5" x2="378" y2="553" stroke="#8a8a8a" stroke-width="0.7" fill="none"/>
<path d="M368.30,552.20 L362.80,553.80 L362.80,550.60 Z" fill="#111"/>
<path d="M378.00,552.20 L383.50,550.60 L383.50,553.80 Z" fill="#111"/>
<text x="326.5" y="551.5" font-size="10.5" text-anchor="start" fill="#1a1a1a">G1/2"</text>
<line x1="340.8" y1="572.6" x2="421.8" y2="572.6" stroke="#8a8a8a" stroke-width="0.7" fill="none"/>
<line x1="421.8" y1="566" x2="421.8" y2="575" stroke="#8a8a8a" stroke-width="0.7" fill="none"/>
<path d="M340.80,572.60 L346.30,571.00 L346.30,574.20 Z" fill="#111"/>
<path d="M421.80,572.60 L416.30,574.20 L416.30,571.00 Z" fill="#111"/>
<text x="372.5" y="571.8" font-size="10.5" text-anchor="start" fill="#1a1a1a">162</text>
<line x1="340.8" y1="595.6" x2="587.5" y2="595.6" stroke="#8a8a8a" stroke-width="0.7" fill="none"/>
<path d="M340.80,595.60 L346.30,594.00 L346.30,597.20 Z" fill="#111"/>
<path d="M587.50,595.60 L582.00,597.20 L582.00,594.00 Z" fill="#111"/>
<line x1="340.8" y1="595.6" x2="340.8" y2="616.3" stroke="#8a8a8a" stroke-width="0.7" fill="none"/>
<line x1="587.5" y1="595.6" x2="587.5" y2="668.6" stroke="#8a8a8a" stroke-width="0.7" fill="none"/>
<text x="455.5" y="595.8" font-size="10.5" text-anchor="start" fill="#1a1a1a">500</text>
<line x1="340.8" y1="607" x2="373.2" y2="607" stroke="#8a8a8a" stroke-width="0.7" fill="none"/>
<path d="M340.80,607.00 L346.30,605.40 L346.30,608.60 Z" fill="#111"/>
<path d="M373.20,607.00 L367.70,608.60 L367.70,605.40 Z" fill="#111"/>
<text x="350.8" y="606" font-size="10.5" text-anchor="start" fill="#1a1a1a">65</text>
<circle cx="539.3" cy="668.1" r="48.8" stroke="#2e2e2e" stroke-width="0.95" fill="none"/>
<rect x="358.8" y="616.3" width="40.39999999999998" height="104.20000000000005" stroke="#2e2e2e" stroke-width="0.95" fill="#fff"/>
<line x1="358.8" y1="622.8" x2="399.2" y2="622.8" stroke="#2e2e2e" stroke-width="0.95" fill="none"/>
<line x1="358.8" y1="714" x2="399.2" y2="714" stroke="#2e2e2e" stroke-width="0.95" fill="none"/>
<path d="M399.2,625.5 L415,625.5 Q421.8,626 421.8,635.8 Q421.8,645.6 415,646.1 L399.2,646.1" stroke="#2e2e2e" stroke-width="0.95" fill="none"/>
<line x1="415" y1="625.8" x2="415" y2="646" stroke="#999" stroke-width="1.2"/>
<path d="M400.1,626.2 Q407.5,636 400.9,646.4" stroke="#111" stroke-width="1.3" fill="none"/>
<circle cx="409.1" cy="636.1" r="2.1" stroke="#2e2e2e" stroke-width="0.95" fill="none"/>
<rect x="398.8" y="676" width="2.4" height="10.5" rx="1.2" stroke="#444" stroke-width="0.7" fill="#fff"/>
<rect x="398.8" y="689" width="2.4" height="10.5" rx="1.2" stroke="#444" stroke-width="0.7" fill="#fff"/>
<rect x="341.3" y="616.4" width="9.699999999999989" height="29.5" stroke="#2e2e2e" stroke-width="0.95" fill="#fff"/>
<rect x="351" y="623.9" width="7.300000000000011" height="14.899999999999977" stroke="#2e2e2e" stroke-width="0.95" fill="#fff"/>
<line x1="351" y1="627.5" x2="358.3" y2="627.5" stroke="#888" stroke-width="1.3"/>
<line x1="351" y1="635" x2="358.3" y2="635" stroke="#888" stroke-width="1.3"/>
<rect x="328.1" y="631.2" width="10.599999999999966" height="10.299999999999955" stroke="#2e2e2e" stroke-width="0.95" fill="#111"/>
<path d="M338.7,631.6 L341.3,629.2 L341.3,638.6 L338.7,641.1 Z" stroke="#333" stroke-width="0.8" fill="#fff"/>
<rect x="341.5" y="653.5" width="8.0" height="29.200000000000045" stroke="#2e2e2e" stroke-width="0.95" fill="#fff"/>
<rect x="349.5" y="661" width="10.800000000000011" height="14" stroke="#2e2e2e" stroke-width="0.95" fill="#fff"/>
<rect x="341.3" y="690.5" width="9.399999999999977" height="29.799999999999955" stroke="#2e2e2e" stroke-width="0.95" fill="#fff"/>
<rect x="350.7" y="697.5" width="7.600000000000023" height="15.799999999999955" stroke="#2e2e2e" stroke-width="0.95" fill="#fff"/>
<line x1="350.7" y1="701.1" x2="358.3" y2="701.1" stroke="#888" stroke-width="1.3"/>
<line x1="350.7" y1="709.3" x2="358.3" y2="709.3" stroke="#888" stroke-width="1.3"/>
<rect x="328.2" y="705.4" width="10.0" height="10.300000000000068" stroke="#2e2e2e" stroke-width="0.95" fill="#111"/>
<path d="M338.2,705.6 L341.3,703.2 L341.3,713.3 L338.2,715.3 Z" stroke="#333" stroke-width="0.8" fill="#fff"/>
<path d="M360.8,663.2 L533.5,663.2 A8.5,5.1 0 0 1 533.5,673.4 L360.8,673.4" stroke="#1a1a1a" stroke-width="0.9" fill="#fff"/>
<path d="M533.5,663.9 A8,4.5 0 0 1 533.5,672.7" stroke="#111" stroke-width="1.8" fill="none"/>
<path d="M533.5,661.6 A12.2,6.9 0 0 1 533.5,675.4" stroke="#2e2e2e" stroke-width="0.95" fill="none"/>
<line x1="399.2" y1="663" x2="399.2" y2="673.6" stroke="#2e2e2e" stroke-width="0.95" fill="none"/>
<circle cx="373.2" cy="668.2" r="6.3" fill="#fff"/>
<path d="M377.2,662.5 A7,7 0 1 0 377.2,673.9" stroke="#111" stroke-width="1.1" fill="none"/>
<path d="M376.4,663.6 A5.6,5.6 0 1 0 376.4,672.8" stroke="#444" stroke-width="0.8" fill="none"/>
<line x1="373.2" y1="607" x2="373.2" y2="667.6" stroke="#8a8a8a" stroke-width="0.7" fill="none"/>
<rect x="369.3" y="674.4" width="7.599999999999966" height="15.399999999999977" stroke="#2e2e2e" stroke-width="0.95" fill="#fff"/>
<line x1="369.3" y1="682.2" x2="376.9" y2="682.2" stroke="#111" stroke-width="1.1"/>
<circle cx="373.2" cy="685.9" r="1.8" stroke="#2e2e2e" stroke-width="0.95" fill="none"/>
<line x1="323.5" y1="616.3" x2="323.5" y2="646" stroke="#8a8a8a" stroke-width="0.7" fill="none"/>
<line x1="320" y1="616.3" x2="341.5" y2="616.3" stroke="#8a8a8a" stroke-width="0.7" fill="none"/>
<line x1="320" y1="646" x2="341.5" y2="646" stroke="#8a8a8a" stroke-width="0.7" fill="none"/>
<path d="M323.50,616.50 L325.10,622.00 L321.90,622.00 Z" fill="#111"/>
<path d="M323.50,645.80 L321.90,640.30 L325.10,640.30 Z" fill="#111"/>
<text x="322.8" y="631" font-size="10.5" text-anchor="middle" fill="#1a1a1a" transform="rotate(-90 322.8 631)">Ø60</text>
<line x1="310.5" y1="616.3" x2="310.5" y2="720.5" stroke="#8a8a8a" stroke-width="0.7" fill="none"/>
<line x1="307" y1="616.3" x2="323" y2="616.3" stroke="#8a8a8a" stroke-width="0.7" fill="none"/>
<line x1="307" y1="720.5" x2="341.5" y2="720.5" stroke="#8a8a8a" stroke-width="0.7" fill="none"/>
<path d="M310.50,616.50 L312.10,622.00 L308.90,622.00 Z" fill="#111"/>
<path d="M310.50,720.30 L308.90,714.80 L312.10,714.80 Z" fill="#111"/>
<text x="309.5" y="668.5" font-size="10.5" text-anchor="middle" fill="#1a1a1a" transform="rotate(-90 309.5 668.5)">210</text>
</svg></body></html>
